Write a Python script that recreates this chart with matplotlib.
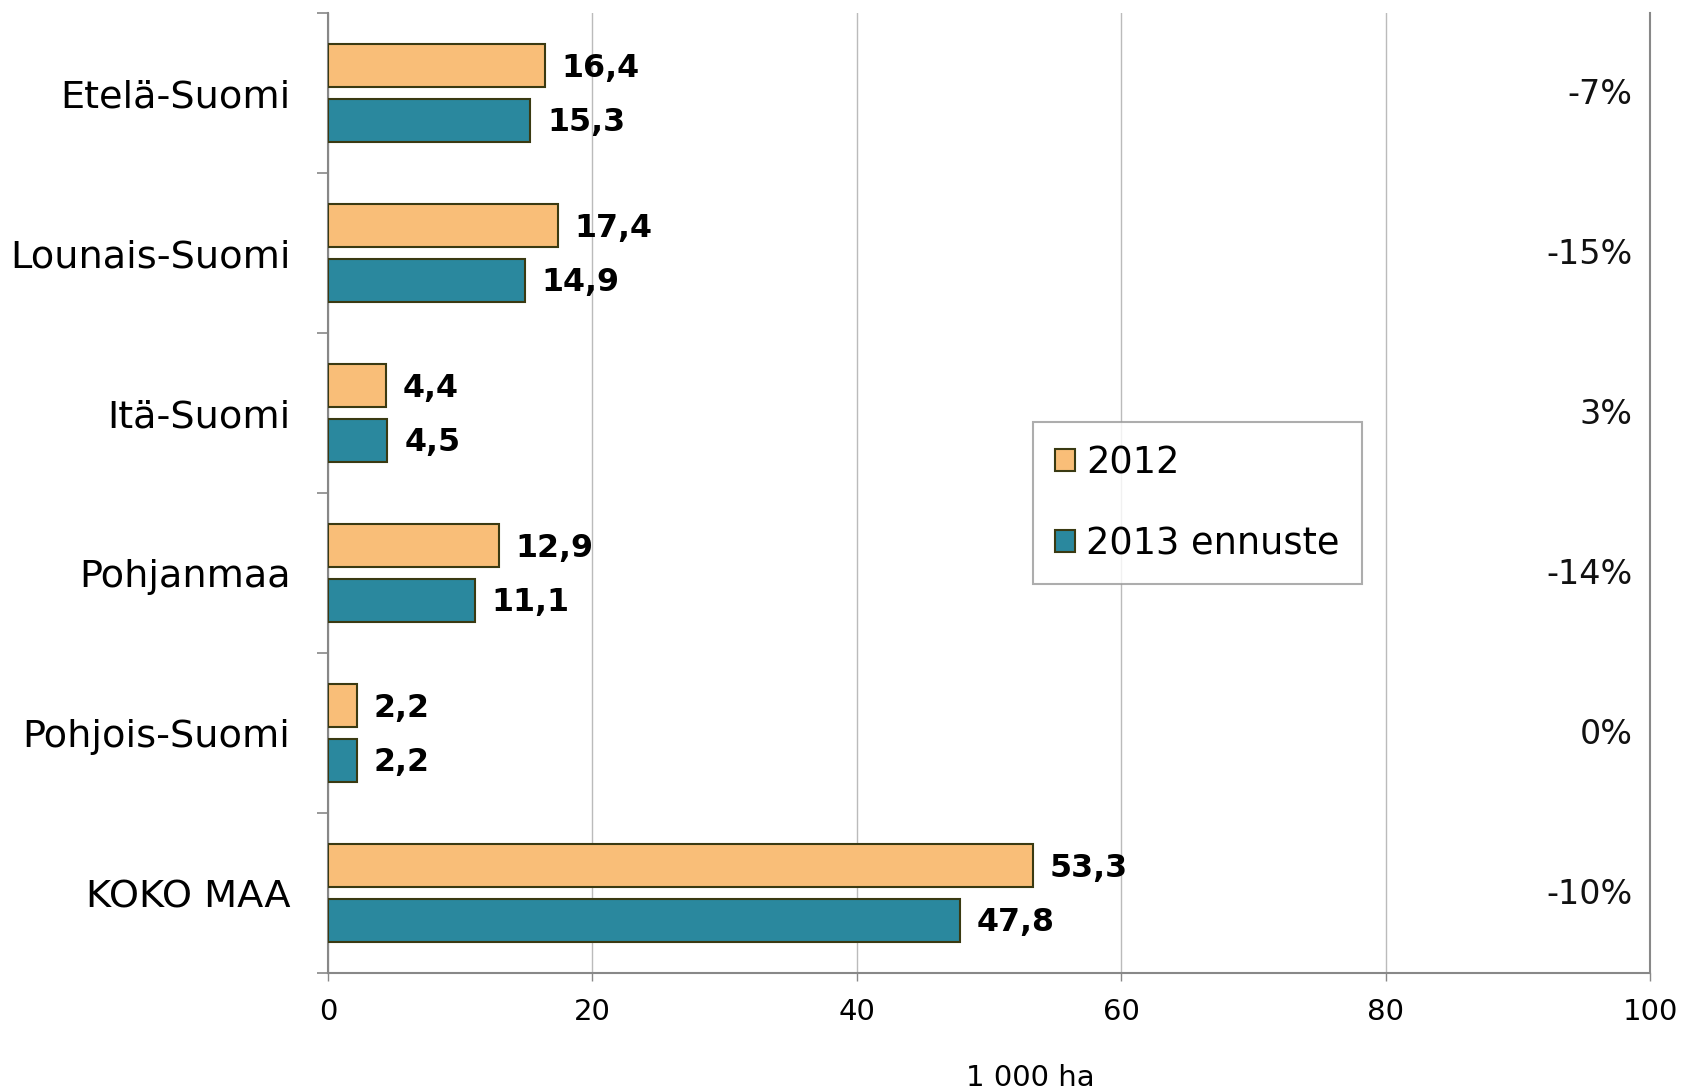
import matplotlib
matplotlib.use("Agg")
import matplotlib.pyplot as plt
from matplotlib.patches import Patch

categories = ["Etelä-Suomi", "Lounais-Suomi", "Itä-Suomi", "Pohjanmaa", "Pohjois-Suomi", "KOKO MAA"]
values_2012 = [16.4, 17.4, 4.4, 12.9, 2.2, 53.3]
values_2013 = [15.3, 14.9, 4.5, 11.1, 2.2, 47.8]
changes = ["-7%", "-15%", "3%", "-14%", "0%", "-10%"]
series_names = ["2012", "2013 ennuste"]
xticks = [0, 20, 40, 60, 80, 100]

c2012 = "#F9BE78"
c2013 = "#2A889E"
edge = "#3A3A12"

plt.rcParams['font.family'] = ['DejaVu Sans']

fig = plt.figure(figsize=(16.85, 10.9), dpi=100)
ax = fig.add_axes([328/1685, 1-973/1090, (1650-328)/1685, (973-13)/1090])

ypos = list(range(len(categories)))
h = 0.27
off = 0.17
b1 = ax.barh([y - off for y in ypos], values_2012, height=h, color=c2012, edgecolor=edge, linewidth=1.5, zorder=3)
b2 = ax.barh([y + off for y in ypos], values_2013, height=h, color=c2013, edgecolor=edge, linewidth=1.5, zorder=3)

def fmt(v):
    return f"{v:.1f}".replace(".", ",")

for bars, vals in ((b1, values_2012), (b2, values_2013)):
    for bar, v in zip(bars, vals):
        ax.annotate(fmt(v), (v, bar.get_y() + bar.get_height()/2), xytext=(12, -2),
                    textcoords="offset points", ha="left", va="center",
                    fontsize=22.8, fontweight="bold", color="black")

for y, c in zip(ypos, changes):
    ax.annotate(c, (0.987, y), xycoords=ax.get_yaxis_transform(), xytext=(0, -1),
                textcoords="offset points", ha="right", va="center",
                fontsize=24, color="#111111")

ax.set_xlim(0, 100)
ax.set_ylim(len(categories) - 0.5, -0.5)
ax.set_xticks(xticks)
ax.set_xticklabels([str(t) for t in xticks], fontsize=21)
ax.set_yticks(ypos)
ax.set_yticklabels(categories, fontsize=27.5)
ax.set_yticks([y - 0.5 for y in range(len(categories) + 1)], minor=True)
ax.tick_params(axis="y", which="major", length=0, pad=27)
ax.tick_params(axis="y", which="minor", length=8, color="#888888", width=1.2)
ax.tick_params(axis="x", which="major", length=6, color="#888888", width=1.0, pad=12)
for lbl in ax.get_yticklabels():
    lbl.set_y(lbl.get_position()[1])

ax.grid(axis="x", color="#BBBBBB", linewidth=1.0, zorder=0)
for s in ["left", "bottom", "right"]:
    ax.spines[s].set_color("#888888")
    ax.spines[s].set_linewidth(1.5)
ax.spines["top"].set_visible(False)

ax.set_xlabel("1 000 ha", fontsize=21)
ax.xaxis.set_label_coords(0.531, -0.095)

handles = [Patch(facecolor=c2012, edgecolor=edge, linewidth=1.5),
           Patch(facecolor=c2013, edgecolor=edge, linewidth=1.5)]
leg = ax.legend(handles, series_names, loc="upper left", bbox_to_anchor=(0.533, 0.574),
                fontsize=26.5, frameon=True, fancybox=False, edgecolor="#999999",
                handlelength=0.55, handleheight=0.55, handletextpad=0.3, labelspacing=1.2,
                borderpad=0.6, borderaxespad=0)
leg.get_frame().set_linewidth(1.5)

fig.savefig("out.png", dpi=100, facecolor="white")
